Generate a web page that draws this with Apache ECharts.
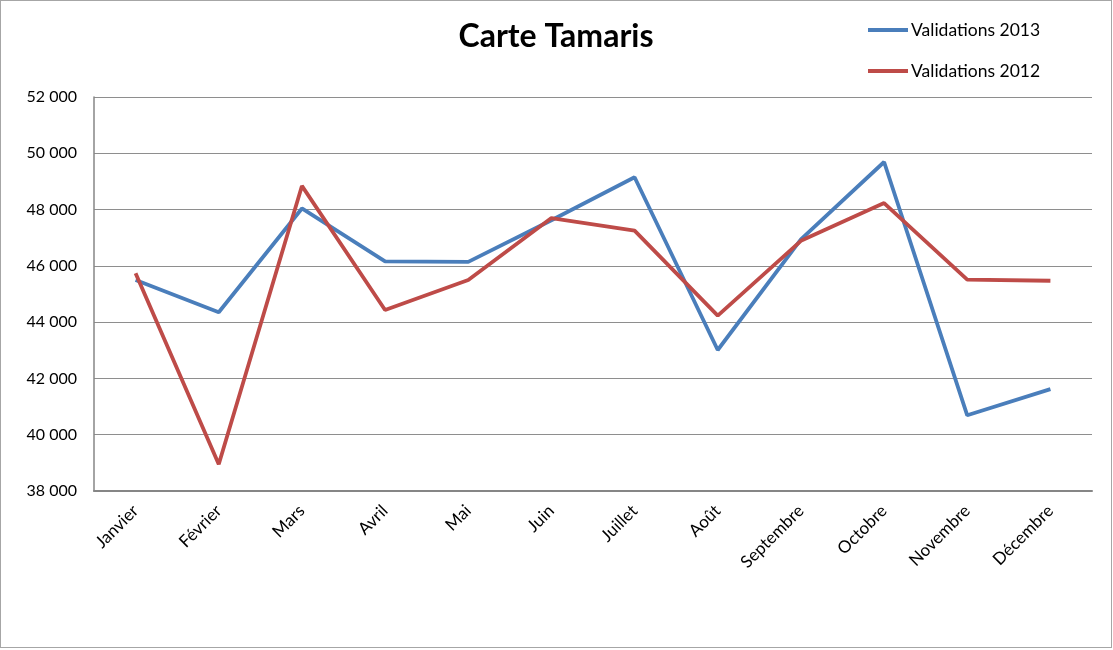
<!DOCTYPE html>
<html>
<head>
<meta charset="utf-8">
<script src="https://cdn.jsdelivr.net/npm/echarts@6/dist/echarts.min.js"></script>
<style>
	body{margin:0;background:#fff;}
	#chart{width:1112px;height:648px;box-sizing:border-box;border:1px solid #a6a6a6;}
</style>
</head>
<body>
<div id="chart"></div>
<script>
//月份
var months = ['Janvier','Février','Mars','Avril','Mai','Juin','Juillet','Août','Septembre','Octobre','Novembre','Décembre'];
//2013年数据
var val2013 = [45500,44350,48040,46160,46140,47620,49150,43010,46940,49690,40690,41620];
//2012年数据
var val2012 = [45740,38950,48840,44430,45500,47700,47250,44230,46890,48230,45510,45470];

var myChart = echarts.init(document.getElementById('chart'));
var font = 'Lato, "Liberation Sans", sans-serif';

option = {
	animation: false,
	title: {
		text: 'Carte Tamaris',
		left: 'center',
		top: 15,
		textStyle: {fontFamily: font, fontSize: 32, fontWeight: 'bold', color: '#000'}
	},
	legend: {
		orient: 'vertical',
		left: 862,
		top: 15,
		itemWidth: 40,
		itemHeight: 4,
		itemGap: 23,
		icon: 'rect',
		textStyle: {fontFamily: font, fontSize: 17.5, color: '#000', padding: [0,0,0,-2]},
		data: ['Validations 2013','Validations 2012']
	},
	grid: {left: 93, top: 96, right: 19, bottom: 156, containLabel: false},
	xAxis: {
		type: 'category',
		data: months,
		boundaryGap: true,
		axisLine: {lineStyle: {color: '#868686', width: 2}},
		axisTick: {show: false},
		axisLabel: {
			interval: 0,
			rotate: 45,
			margin: 17,
			fontFamily: font,
			fontSize: 17,
			color: '#000'
		}
	},
	yAxis: {
		type: 'value',
		min: 38000,
		max: 52000,
		interval: 2000,
		axisLine: {show: true, lineStyle: {color: '#868686', width: 1.5}},
		axisTick: {show: false},
		splitLine: {lineStyle: {color: '#8e8e8e', width: 1.2}},
		axisLabel: {
			margin: 17,
			fontFamily: font,
			fontSize: 16,
			color: '#000',
			formatter: function(v){
				return String(v).replace(/\B(?=(\d{3})+(?!\d))/g, ' ');
			}
		}
	},
	series: [
		{
			name: 'Validations 2013',
			type: 'line',
			data: val2013,
			showSymbol: false,
			lineStyle: {color: '#4a7ebb', width: 3.8},
			itemStyle: {color: '#4a7ebb'}
		},
		{
			name: 'Validations 2012',
			type: 'line',
			data: val2012,
			showSymbol: false,
			lineStyle: {color: '#be4b48', width: 3.8},
			itemStyle: {color: '#be4b48'}
		}
	]
};

myChart.setOption(option);
</script>
</body>
</html>
